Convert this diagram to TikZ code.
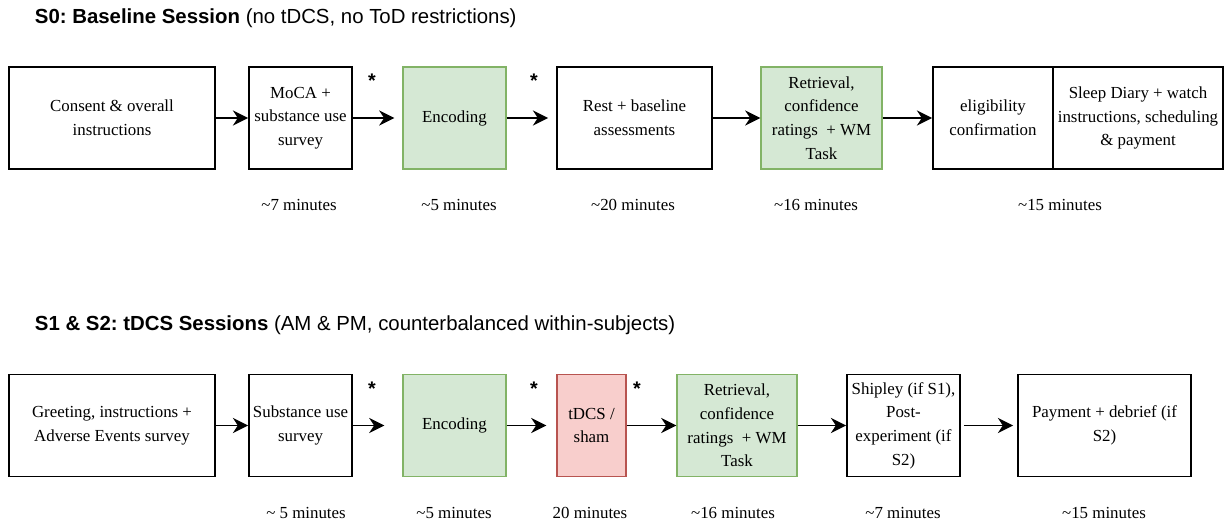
\documentclass[tikz,border=0pt]{standalone}
\usepackage{fontspec}
\setmainfont{Liberation Serif}
\setsansfont{Liberation Sans}
\usepackage{tikz}
\usetikzlibrary{arrows.meta,positioning}
\usepackage{xcolor}
\definecolor{encfill}{HTML}{D5E8D4}
\definecolor{encline}{HTML}{82B366}
\definecolor{shamfill}{HTML}{F8CECC}
\definecolor{shamline}{HTML}{B85450}
\frenchspacing

\begin{document}
\begin{tikzpicture}[
        x=0.025cm, y=-0.025cm,
        box/.style={rectangle,draw,line width=1.3pt,minimum height=2.55cm,inner sep=1pt,align=center,font=\fontsize{12}{16.8}\selectfont},
        greenbox/.style={box,draw=encline,fill=encfill,line width=0.9pt},
        redbox/.style={box,draw=shamline,fill=shamfill,line width=0.9pt},
        arrow/.style={-{Stealth[length=0.38cm,width=0.38cm]},line width=1.3pt},
        dur/.style={font=\fontsize{12}{14}\selectfont},
        star/.style={font=\sffamily\bfseries\fontsize{14}{15}\selectfont},
        title/.style={anchor=west,font=\sffamily\fontsize{14.5}{16}\selectfont}
    ]
        \useasboundingbox (0,0) rectangle (1225,523);

        \node[title] (title0) at (30,18) {\textbf{S0: Baseline Session} (no tDCS, no ToD restrictions)};
        \node[box, minimum width=5.15cm] (consent) at (112,118) {Consent \& overall\\instructions};
        \node[box, minimum width=2.575cm] (moca) at (300.5,118) {MoCA +\\substance use\\survey};
        \node[greenbox, minimum width=2.575cm] (enc0) at (454.5,118) {Encoding};
        \node[box, minimum width=3.875cm] (rest) at (634.5,118) {Rest + baseline\\assessments};
        \node[greenbox, minimum width=3.025cm] (ret0) at (821.5,118) {Retrieval,\\confidence\\ratings \ + WM\\Task};
        \node[box, minimum width=3cm] (elig) at (993,118) {eligibility\\confirmation};
        \node[box, minimum width=4.25cm] (sleep) at (1138,118) {Sleep Diary + watch\\instructions, scheduling\\\& payment};

        \node[star] (star0a) at (372,81) {*};
        \node[star] (star0b) at (534,81) {*};

        \draw[arrow] (consent) -- (moca);
        \draw[arrow, shorten >=0.2cm] (moca) -- (enc0);
        \draw[arrow, shorten >=0.2cm] (enc0) -- (rest);
        \draw[arrow] (rest) -- (ret0);
        \draw[arrow] (ret0) -- (elig);

        \node[dur] (dur0a) at (299,205) {\textasciitilde7 minutes};
        \node[dur] (dur0b) at (459,205) {\textasciitilde5 minutes};
        \node[dur] (dur0c) at (633,205) {\textasciitilde20 minutes};
        \node[dur] (dur0d) at (816,205) {\textasciitilde16 minutes};
        \node[dur] (dur0e) at (1060,205) {\textasciitilde15 minutes};

        \node[title] (title1) at (30,325) {\textbf{S1 \& S2: tDCS Sessions} (AM \& PM, counterbalanced within-subjects)};
        \node[box, minimum width=5.15cm] (greet) at (112,425.5) {Greeting, instructions +\\Adverse Events survey};
        \node[box, minimum width=2.575cm] (subst) at (300.5,425.5) {Substance use\\survey};
        \node[greenbox, minimum width=2.575cm] (enc1) at (454.5,425.5) {Encoding};
        \node[redbox, minimum width=1.725cm] (tdcs) at (591.5,425.5) {tDCS /\\sham};
        \node[greenbox, minimum width=3cm] (ret1) at (737,425.5) {Retrieval,\\confidence\\ratings \ + WM\\Task};
        \node[box, minimum width=2.825cm] (shipley) at (903.5,425.5) {Shipley (if S1),\\Post-\\experiment (if\\S2)};
        \node[box, minimum width=4.325cm] (payment) at (1104.5,425.5) {Payment + debrief (if\\S2)};

        \node[star] (star1a) at (372,389) {*};
        \node[star] (star1b) at (534,389) {*};
        \node[star] (star1c) at (637,389) {*};

        \draw[arrow] (greet) -- (subst);
        \draw[arrow, shorten >=0.45cm] (subst) -- (enc1);
        \draw[arrow, shorten >=0.25cm] (enc1) -- (tdcs);
        \draw[arrow] (tdcs) -- (ret1);
        \draw[arrow] (ret1) -- (shipley);
        \draw[arrow, shorten <=0.075cm, shorten >=0.1cm] (shipley) -- (payment);

        \node[dur] (dur1a) at (306,513) {\textasciitilde{} 5 minutes};
        \node[dur] (dur1b) at (454,513) {\textasciitilde5 minutes};
        \node[dur] (dur1c) at (590,513) {20 minutes};
        \node[dur] (dur1d) at (733,513) {\textasciitilde16 minutes};
        \node[dur] (dur1e) at (903,513) {\textasciitilde7 minutes};
        \node[dur] (dur1f) at (1104,513) {\textasciitilde15 minutes};
    \end{tikzpicture}
\end{document}
